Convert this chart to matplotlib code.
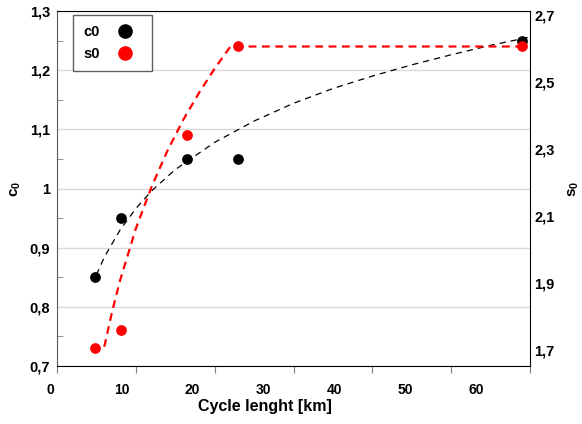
import matplotlib
matplotlib.use("Agg")
import matplotlib.pyplot as plt
from matplotlib.lines import Line2D

plt.rcParams['font.family'] = ['Liberation Sans', 'DejaVu Sans']
plt.rcParams['font.weight'] = 'bold'
plt.rcParams['mathtext.fontset'] = 'custom'
plt.rcParams['mathtext.rm'] = 'Liberation Sans:bold'
plt.rcParams['mathtext.bf'] = 'Liberation Sans:bold'
plt.rcParams['mathtext.default'] = 'bf'

# ---- data ----
cycle_km = [4.8, 8.1, 16.5, 23.0, 59.0]
c0_vals = [0.85, 0.95, 1.05, 1.05, 1.25]
s0_vals = [1.75, 1.80, 2.35, 2.60, 2.60]

# trend lines
c0_trend_x = [5, 6, 8, 10, 12, 15, 20, 25, 30, 35, 40, 45, 50, 55, 60]
c0_trend_y = [0.854, 0.884, 0.930, 0.966, 0.996, 1.032, 1.078, 1.114, 1.144,
              1.169, 1.190, 1.209, 1.226, 1.242, 1.256]
s0_trend_x = [6, 7, 8, 10, 12, 14, 16, 18, 20, 22, 23, 59]
s0_trend_y = [1.754, 1.854, 1.941, 2.087, 2.205, 2.306, 2.393, 2.469, 2.538,
              2.600, 2.600, 2.600]

x_ticks = [0, 10, 20, 30, 40, 50, 60]
c0_ticks = [0.7, 0.8, 0.9, 1.0, 1.1, 1.2, 1.3]
c0_tick_labels = ['0,7', '0,8', '0,9', '1', '1,1', '1,2', '1,3']
s0_ticks = [1.7, 1.9, 2.1, 2.3, 2.5, 2.7]
s0_tick_labels = ['1,7', '1,9', '2,1', '2,3', '2,5', '2,7']

W, H = 582, 424
fig = plt.figure(figsize=(W / 100, H / 100), dpi=100)
# plot area in pixels: x 57..530, y 11..366
L, R, T, B = 57, 530, 11, 366
ax = fig.add_axes([L / W, 1 - B / H, (R - L) / W, (B - T) / H])
ax2 = ax.twinx()

ax.set_xlim(0, 60)
ax.set_ylim(0.7, 1.3)
ax2.set_ylim(1.7, 2.7)

# left axis + grid
ax.set_yticks(c0_ticks)
ax.set_yticklabels(c0_tick_labels, fontsize=10.5, fontweight='bold')
ax.set_yticks([0.75, 0.85, 0.95, 1.05, 1.15, 1.25], minor=True)
ax.yaxis.grid(True, which='major', color='#d9d9d9', lw=1)
ax.set_axisbelow(True)
ax.tick_params(axis='y', which='major', length=0, pad=5)
ax.tick_params(axis='y', which='minor', direction='in', length=4, color='#808080')
ax.set_ylabel('c$_0$', fontsize=11, fontweight='bold', labelpad=5)

# bottom axis: tick marks at true positions; labels sit slightly shifted (as in the original)
ax.set_xticks(x_ticks)
ax.tick_params(axis='x', which='major', direction='out', length=5, color='#808080',
               labelbottom=False)
LL = 30
lab_ax = fig.add_axes([LL / W, 1 - B / H, (R - LL) / W, (B - T) / H])
lab_ax.patch.set_visible(False)
for sp in lab_ax.spines.values():
    sp.set_visible(False)
lab_ax.set_xlim((LL - 50.7) / 7.088, (R - 50.7) / 7.088)
lab_ax.set_yticks([])
lab_ax.set_xticks(x_ticks)
lab_ax.set_xticklabels([str(t) for t in x_ticks], fontsize=10, fontweight='bold')
lab_ax.tick_params(axis='x', length=0, pad=12)
lab_ax.set_xlabel('Cycle lenght [km]', fontsize=11.5, fontweight='bold')
lab_ax.xaxis.set_label_coords((264.5 - LL) / (R - LL), -0.092)

# right axis labels (slightly compressed, as in the original)
ax2.set_yticks([])
secy = ax2.secondary_yaxis('right',
                           functions=(lambda s: 2.7 - ((2.7 - s) * 355 - 4) / 335,
                                      lambda v: 2.7 - ((2.7 - v) * 335 + 4) / 355))
secy.set_yticks(s0_ticks)
secy.set_yticklabels(s0_tick_labels, fontsize=10.5, fontweight='bold')
secy.tick_params(length=0, pad=3)
secy.spines['right'].set_visible(False)
secy.set_ylabel('s$_0$', fontsize=11, fontweight='bold', labelpad=9)

for sp in ['top', 'bottom', 'right']:
    ax.spines[sp].set_color('black')
ax.spines['left'].set_color('#595959')
for sp in ax2.spines.values():
    sp.set_visible(False)

# marks
ax.plot(c0_trend_x, c0_trend_y, color='black', lw=0.9, ls=(0, (5, 4)), zorder=3)
ax.scatter(cycle_km, c0_vals, s=45, color='black', zorder=4)
ax2.plot(s0_trend_x, s0_trend_y, color='#ff0000', lw=1.6, ls=(0, (3.5, 2.5)), zorder=3)
ax2.scatter(cycle_km, s0_vals, s=45, color='#ff0000', zorder=4)

handles = [Line2D([], [], ls='none', marker='o', color='black', markersize=9.5),
           Line2D([], [], ls='none', marker='o', color='#ff0000', markersize=9.5)]
leg = ax2.legend(handles, ['c0', 's0'], loc='upper left',
                 bbox_to_anchor=((73 - L) / (R - L), (B - 15) / (B - T)),
                 borderaxespad=0, markerfirst=False, fancybox=False, framealpha=1,
                 edgecolor='#606060', prop={'weight': 'bold', 'size': 10.5},
                 labelspacing=0.55, handletextpad=0.6, handlelength=2.3,
                 borderpad=0.7)
leg.get_frame().set_linewidth(1)

fig.savefig('out.png', dpi=100)
